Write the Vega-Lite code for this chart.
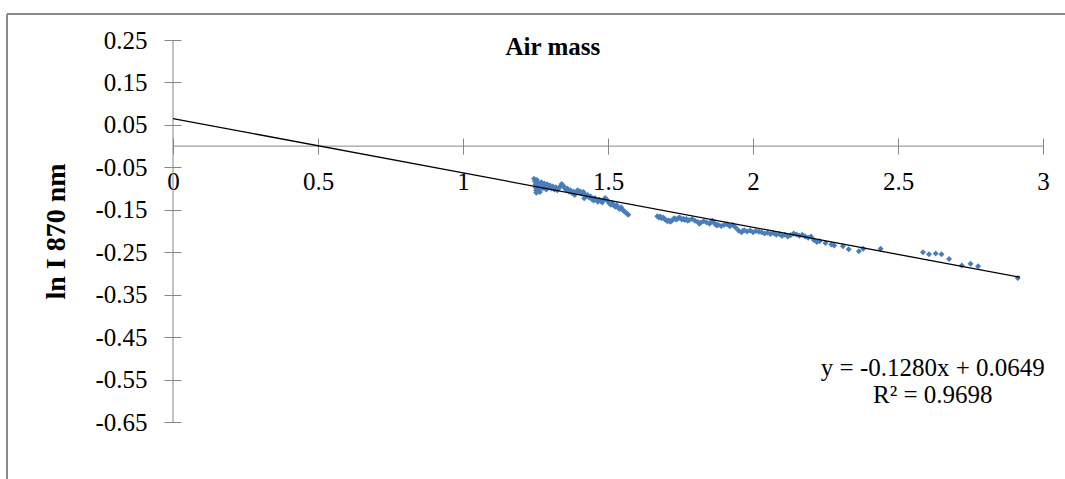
{
  "$schema": "https://vega.github.io/schema/vega-lite/v6.json",
  "width": 870,
  "height": 382,
  "autosize": {"type": "none"},
  "padding": {"left": 173, "top": 40, "right": 22, "bottom": 57},
  "background": "white",
  "config": {"view": {"stroke": null}, "font": "Liberation Serif"},
  "data": {"values": [{}]},
  "datasets": {
    "points": [
      {"airmass": 1.245, "lnI": -0.077}, {"airmass": 1.248, "lnI": -0.083}, {"airmass": 1.25, "lnI": -0.09},
      {"airmass": 1.25, "lnI": -0.097}, {"airmass": 1.252, "lnI": -0.104}, {"airmass": 1.253, "lnI": -0.11},
      {"airmass": 1.255, "lnI": -0.08}, {"airmass": 1.258, "lnI": -0.087}, {"airmass": 1.26, "lnI": -0.094},
      {"airmass": 1.262, "lnI": -0.101}, {"airmass": 1.265, "lnI": -0.108}, {"airmass": 1.27, "lnI": -0.085},
      {"airmass": 1.272, "lnI": -0.092}, {"airmass": 1.275, "lnI": -0.099}, {"airmass": 1.28, "lnI": -0.088},
      {"airmass": 1.283, "lnI": -0.095}, {"airmass": 1.287, "lnI": -0.102}, {"airmass": 1.29, "lnI": -0.09},
      {"airmass": 1.295, "lnI": -0.097}, {"airmass": 1.3, "lnI": -0.093}, {"airmass": 1.305, "lnI": -0.1},
      {"airmass": 1.31, "lnI": -0.095}, {"airmass": 1.315, "lnI": -0.102}, {"airmass": 1.32, "lnI": -0.097},
      {"airmass": 1.325, "lnI": -0.104}, {"airmass": 1.33, "lnI": -0.1}, {"airmass": 1.335, "lnI": -0.095},
      {"airmass": 1.34, "lnI": -0.089}, {"airmass": 1.345, "lnI": -0.093}, {"airmass": 1.35, "lnI": -0.098},
      {"airmass": 1.355, "lnI": -0.103}, {"airmass": 1.36, "lnI": -0.1}, {"airmass": 1.365, "lnI": -0.107},
      {"airmass": 1.37, "lnI": -0.104}, {"airmass": 1.375, "lnI": -0.11}, {"airmass": 1.38, "lnI": -0.107},
      {"airmass": 1.385, "lnI": -0.115}, {"airmass": 1.39, "lnI": -0.108}, {"airmass": 1.395, "lnI": -0.104},
      {"airmass": 1.4, "lnI": -0.11}, {"airmass": 1.405, "lnI": -0.107}, {"airmass": 1.41, "lnI": -0.112},
      {"airmass": 1.415, "lnI": -0.108}, {"airmass": 1.418, "lnI": -0.123}, {"airmass": 1.42, "lnI": -0.113},
      {"airmass": 1.425, "lnI": -0.118}, {"airmass": 1.43, "lnI": -0.115}, {"airmass": 1.435, "lnI": -0.121},
      {"airmass": 1.44, "lnI": -0.119}, {"airmass": 1.445, "lnI": -0.125}, {"airmass": 1.45, "lnI": -0.128},
      {"airmass": 1.455, "lnI": -0.122}, {"airmass": 1.46, "lnI": -0.127}, {"airmass": 1.465, "lnI": -0.131},
      {"airmass": 1.47, "lnI": -0.126}, {"airmass": 1.475, "lnI": -0.129}, {"airmass": 1.48, "lnI": -0.133},
      {"airmass": 1.485, "lnI": -0.127}, {"airmass": 1.49, "lnI": -0.122}, {"airmass": 1.495, "lnI": -0.126},
      {"airmass": 1.5, "lnI": -0.13}, {"airmass": 1.505, "lnI": -0.135}, {"airmass": 1.51, "lnI": -0.138},
      {"airmass": 1.515, "lnI": -0.134}, {"airmass": 1.52, "lnI": -0.14}, {"airmass": 1.525, "lnI": -0.143},
      {"airmass": 1.53, "lnI": -0.139}, {"airmass": 1.535, "lnI": -0.145}, {"airmass": 1.54, "lnI": -0.148},
      {"airmass": 1.545, "lnI": -0.144}, {"airmass": 1.55, "lnI": -0.15}, {"airmass": 1.555, "lnI": -0.153},
      {"airmass": 1.56, "lnI": -0.156}, {"airmass": 1.565, "lnI": -0.159}, {"airmass": 1.57, "lnI": -0.162},
      {"airmass": 1.67, "lnI": -0.165}, {"airmass": 1.675, "lnI": -0.168}, {"airmass": 1.68, "lnI": -0.166},
      {"airmass": 1.685, "lnI": -0.17}, {"airmass": 1.69, "lnI": -0.168}, {"airmass": 1.695, "lnI": -0.172},
      {"airmass": 1.7, "lnI": -0.174}, {"airmass": 1.705, "lnI": -0.177}, {"airmass": 1.71, "lnI": -0.175},
      {"airmass": 1.715, "lnI": -0.178}, {"airmass": 1.72, "lnI": -0.176}, {"airmass": 1.725, "lnI": -0.172},
      {"airmass": 1.73, "lnI": -0.17}, {"airmass": 1.735, "lnI": -0.173}, {"airmass": 1.74, "lnI": -0.171},
      {"airmass": 1.745, "lnI": -0.168}, {"airmass": 1.75, "lnI": -0.17}, {"airmass": 1.755, "lnI": -0.173},
      {"airmass": 1.76, "lnI": -0.171}, {"airmass": 1.765, "lnI": -0.174}, {"airmass": 1.77, "lnI": -0.172},
      {"airmass": 1.775, "lnI": -0.176}, {"airmass": 1.78, "lnI": -0.174}, {"airmass": 1.79, "lnI": -0.172},
      {"airmass": 1.8, "lnI": -0.176}, {"airmass": 1.81, "lnI": -0.179}, {"airmass": 1.815, "lnI": -0.183},
      {"airmass": 1.82, "lnI": -0.18}, {"airmass": 1.83, "lnI": -0.177}, {"airmass": 1.84, "lnI": -0.18},
      {"airmass": 1.85, "lnI": -0.183}, {"airmass": 1.855, "lnI": -0.179}, {"airmass": 1.86, "lnI": -0.176},
      {"airmass": 1.865, "lnI": -0.18}, {"airmass": 1.87, "lnI": -0.184}, {"airmass": 1.875, "lnI": -0.187},
      {"airmass": 1.88, "lnI": -0.185}, {"airmass": 1.89, "lnI": -0.188}, {"airmass": 1.9, "lnI": -0.186},
      {"airmass": 1.91, "lnI": -0.184}, {"airmass": 1.92, "lnI": -0.189}, {"airmass": 1.93, "lnI": -0.186},
      {"airmass": 1.94, "lnI": -0.192}, {"airmass": 1.95, "lnI": -0.199}, {"airmass": 1.96, "lnI": -0.203},
      {"airmass": 1.965, "lnI": -0.2}, {"airmass": 1.97, "lnI": -0.198}, {"airmass": 1.98, "lnI": -0.201},
      {"airmass": 1.99, "lnI": -0.199}, {"airmass": 2.0, "lnI": -0.203}, {"airmass": 2.01, "lnI": -0.2},
      {"airmass": 2.02, "lnI": -0.202}, {"airmass": 2.03, "lnI": -0.203}, {"airmass": 2.04, "lnI": -0.206},
      {"airmass": 2.05, "lnI": -0.204}, {"airmass": 2.06, "lnI": -0.207}, {"airmass": 2.07, "lnI": -0.205},
      {"airmass": 2.08, "lnI": -0.209}, {"airmass": 2.09, "lnI": -0.207}, {"airmass": 2.1, "lnI": -0.212},
      {"airmass": 2.11, "lnI": -0.209}, {"airmass": 2.12, "lnI": -0.213}, {"airmass": 2.13, "lnI": -0.21},
      {"airmass": 2.14, "lnI": -0.206}, {"airmass": 2.15, "lnI": -0.208}, {"airmass": 2.16, "lnI": -0.211},
      {"airmass": 2.17, "lnI": -0.209}, {"airmass": 2.18, "lnI": -0.213}, {"airmass": 2.19, "lnI": -0.216},
      {"airmass": 2.2, "lnI": -0.213}, {"airmass": 2.21, "lnI": -0.221}, {"airmass": 2.22, "lnI": -0.226},
      {"airmass": 2.23, "lnI": -0.224}, {"airmass": 2.25, "lnI": -0.228}, {"airmass": 2.27, "lnI": -0.232},
      {"airmass": 2.28, "lnI": -0.234}, {"airmass": 2.31, "lnI": -0.236}, {"airmass": 2.33, "lnI": -0.243},
      {"airmass": 2.365, "lnI": -0.248}, {"airmass": 2.38, "lnI": -0.242}, {"airmass": 2.44, "lnI": -0.242},
      {"airmass": 2.586, "lnI": -0.25}, {"airmass": 2.607, "lnI": -0.255}, {"airmass": 2.63, "lnI": -0.253},
      {"airmass": 2.65, "lnI": -0.255}, {"airmass": 2.676, "lnI": -0.266}, {"airmass": 2.72, "lnI": -0.281},
      {"airmass": 2.75, "lnI": -0.277}, {"airmass": 2.776, "lnI": -0.283}, {"airmass": 2.913, "lnI": -0.311}
    ],
    "trend": [
      {"airmass": 0, "lnI": 0.0649},
      {"airmass": 2.92, "lnI": -0.3089}
    ]
  },
  "layer": [
    {
      "data": {"name": "points"},
      "mark": {"type": "point", "shape": "diamond", "filled": true, "size": 36, "color": "#4A7EBB", "opacity": 1},
      "encoding": {
        "x": {
          "field": "airmass",
          "type": "quantitative",
          "scale": {"domain": [0, 3], "nice": false, "zero": false},
          "axis": {
            "title": null,
            "values": [0, 0.5, 1, 1.5, 2, 2.5, 3],
            "format": ".1~f",
            "offset": -284,
            "tickSize": 16,
            "tickColor": "#868686",
            "domain": false,
            "grid": false,
            "labelPadding": 15,
            "labelFont": "Liberation Serif",
            "labelFontSize": 25,
            "labelColor": "black",
            "labelFlush": false,
            "labelOverlap": false
          }
        },
        "y": {
          "field": "lnI",
          "type": "quantitative",
          "scale": {"domain": [-0.65, 0.25], "nice": false, "zero": false},
          "axis": {
            "title": "ln I 870 nm",
            "titleFont": "Liberation Serif",
            "titleFontSize": 28,
            "titleFontWeight": "bold",
            "titleColor": "black",
            "titlePadding": 24,
            "values": [-0.65, -0.55, -0.45, -0.35, -0.25, -0.15, -0.05, 0.05, 0.15, 0.25],
            "labelExpr": "datum.value < 0 ? '-' + format(-datum.value, '.2f') : format(datum.value, '.2f')",
            "offset": -8,
            "tickSize": 17,
            "tickColor": "#868686",
            "domain": false,
            "grid": false,
            "labelPadding": 17,
            "labelFont": "Liberation Serif",
            "labelFontSize": 25,
            "labelColor": "black",
            "labelFlush": false,
            "labelOverlap": false
          }
        }
      }
    },
    {
      "mark": {"type": "rule", "color": "#8a8a8a", "strokeWidth": 2, "clip": false},
      "encoding": {
        "x": {"datum": -0.5724, "type": "quantitative"},
        "x2": {"datum": 3.1},
        "y": {"datum": 0.3113, "type": "quantitative"}
      }
    },
    {
      "mark": {"type": "rule", "color": "#8a8a8a", "strokeWidth": 2, "clip": false},
      "encoding": {
        "x": {"datum": -0.5724, "type": "quantitative"},
        "y": {"datum": 0.3113, "type": "quantitative"},
        "y2": {"datum": -0.8}
      }
    },
    {
      "mark": {"type": "rule", "color": "#868686", "strokeWidth": 1},
      "encoding": {"y": {"datum": 0, "type": "quantitative"}}
    },
    {
      "mark": {"type": "rule", "color": "#868686", "strokeWidth": 1},
      "encoding": {"x": {"datum": 0, "type": "quantitative"}}
    },
    {
      "data": {"name": "trend"},
      "mark": {"type": "line", "color": "black", "strokeWidth": 1.3},
      "encoding": {
        "x": {"field": "airmass", "type": "quantitative"},
        "y": {"field": "lnI", "type": "quantitative"}
      }
    },
    {
      "mark": {"type": "text", "text": "Air mass", "font": "Liberation Serif", "fontSize": 25, "fontWeight": "bold", "color": "black", "align": "center", "baseline": "middle"},
      "encoding": {
        "x": {"datum": 1.31, "type": "quantitative"},
        "y": {"datum": 0.2333, "type": "quantitative"}
      }
    },
    {
      "mark": {"type": "text", "text": ["y = -0.1280x + 0.0649", "R² = 0.9698"], "font": "Liberation Serif", "fontSize": 25, "lineHeight": 27, "color": "black", "align": "center", "baseline": "middle"},
      "encoding": {
        "x": {"datum": 2.62, "type": "quantitative"},
        "y": {"datum": -0.523, "type": "quantitative"}
      }
    }
  ]
}
